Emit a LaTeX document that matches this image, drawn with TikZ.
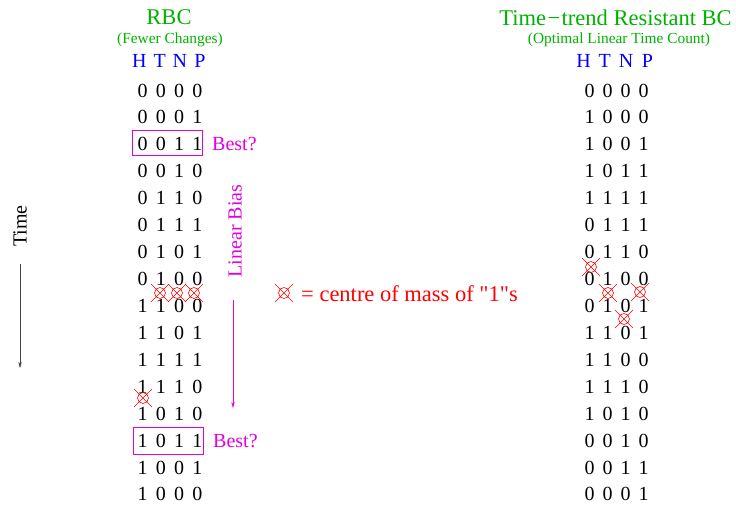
\documentclass[tikz,border=0pt]{standalone}
\usepackage{fontspec}
\setmainfont{Liberation Serif}
\newfontfamily\legfont{Liberation Serif}[Ligatures=TeXOff]
\usetikzlibrary{arrows.meta}
\definecolor{tgreen}{RGB}{0,178,0}
\definecolor{tblue}{RGB}{0,0,255}
\definecolor{tmag}{RGB}{225,0,225}
\definecolor{tred}{RGB}{255,0,0}
\newcommand\fourL[4]{\makebox[18.3pt]{#1}\makebox[18.3pt]{#2}\makebox[18.3pt]{#3}\makebox[18.3pt]{#4}}
\newcommand\fourR[4]{\makebox[18pt]{#1}\makebox[18pt]{#2}\makebox[18pt]{#3}\makebox[18pt]{#4}}
\newcommand\hdrL[4]{\makebox[20.2pt]{#1}\makebox[20.2pt]{#2}\makebox[20.2pt]{#3}\makebox[20.2pt]{#4}}
\newcommand\hdrR[4]{\makebox[21.3pt]{#1}\makebox[21.3pt]{#2}\makebox[21.3pt]{#3}\makebox[21.3pt]{#4}}
\tikzset{
  txt/.style={inner sep=0pt, anchor=base, font=\fontsize{20}{24}\selectfont},
  digit/.style={txt},
  hdr/.style={txt, text=tblue},
  title/.style={inner sep=0pt, anchor=base, text=tgreen, font=\fontsize{22.5}{26}\selectfont},
  subtitle/.style={inner sep=0pt, anchor=base, text=tgreen, font=\fontsize{15.4}{18}\selectfont},
  best/.style={txt, anchor=base west, text=tmag},
  magbox/.style={draw=tmag, line width=0.8pt},
  magarrow/.style={draw=tmag, line width=0.8pt, -{Stealth[length=6pt,width=3.5pt]}},
  timearrow/.style={draw=black!75, line width=0.7pt, -{Stealth[length=6pt,width=3.5pt]}},
  com/.style={circle, draw=tred, line width=0.6pt, minimum size=11pt, inner sep=0pt},
}
\newcommand\comark[2]{\node[com] (#1) at (#2) {};
  \draw[tred,line width=0.6pt] ([shift={(-9,-9)}]#1.center) -- ([shift={(9,9)}]#1.center)
     ([shift={(-9,9)}]#1.center) -- ([shift={(9,-9)}]#1.center);}
\begin{document}
\begin{tikzpicture}[x=1pt,y=-1pt]
\useasboundingbox (0,0) rectangle (736,504);
% titles
\node[title] (tL) at (169,24.5) {RBC};
\node[subtitle] (sL) at (170,43.5) {(Fewer Changes)};
\node[hdr] (hL) at (169.75,67) {\hdrL HTNP};
\node[title] (tR) at (615.5,25) {Time\kern1.5pt\textminus\kern1.5pt trend Resistant BC};
\node[subtitle] (sR) at (619,43.5) {(Optimal Linear Time Count)};
\node[hdr] (hR) at (615.5,67) {\hdrR HTNP};
% rows
\foreach \r [count=\i from 0] in {0000,0001,0011,0010,0110,0111,0101,0100,1100,1101,1111,1110,1010,1011,1001,1000}
  \node[digit] (L\i) at (170,{97+26.93*\i}) {\expandafter\fourL\r};
\foreach \r [count=\i from 0] in {0000,1000,1001,1011,1111,0111,0110,0100,0101,1101,1100,1110,1010,0010,0011,0001}
  \node[digit] (R\i) at (616.5,{97+26.93*\i}) {\expandafter\fourR\r};
% best boxes
\draw[magbox] ([shift={(-38,-20)}]L2.base) rectangle ([shift={(32,5)}]L2.base);
\node[best] (b1) at ([xshift=42]L2.base) {Best?};
\draw[magbox] ([shift={(-37,-19.5)}]L13.base) rectangle ([shift={(33,7)}]L13.base);
\node[best] (b2) at ([xshift=43]L13.base) {Best?};
% linear bias
\node[txt, anchor=center, rotate=90, text=tmag] (lb) at (235,231) {Linear Bias};
\coordinate (lbend) at (233,408);
\draw[magarrow] ([shift={(-2,22)}]lb.west) -- (lbend);
% time
\node[txt, anchor=center, rotate=90] (time) at (20,226) {Time};
\coordinate (tend) at (20,368);
\draw[timearrow] ([shift={(0,38)}]time.center) -- (tend);
% centres of mass
\comark{cl1}{160,293}
\comark{cl2}{177,293}
\comark{cl3}{194,293}
\comark{cl4}{143,398}
\comark{cr1}{591,267}
\comark{cr2}{608,293}
\comark{cr3}{640,292}
\comark{cr4}{624,319}
% legend
\comark{leg}{284,293}
\node[txt, anchor=base west, text=tred, font=\legfont\fontsize{22.5}{26}\selectfont] (legt) at (301,301) {= centre of mass of "1"s};
\end{tikzpicture}
\end{document}
